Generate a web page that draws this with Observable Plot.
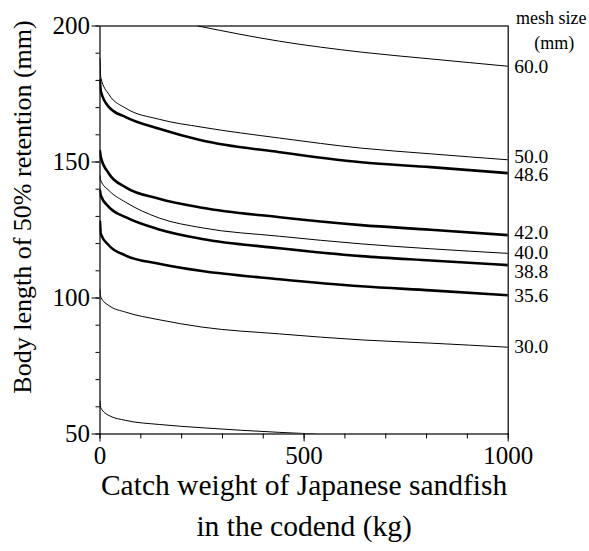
<!DOCTYPE html>
<html><head><meta charset="utf-8">
<script src="https://cdn.jsdelivr.net/npm/d3@7"></script>
<script src="https://cdn.jsdelivr.net/npm/@observablehq/plot@0.6"></script>
<style>body{margin:0;background:#fff} svg{display:block}</style>
</head><body><div id="chart"></div>
<script>
// Catch weight (kg) at which values were read
const kg = [0, 2, 22, 63, 145, 250, 440, 640, 810, 1000];
const kg60 = [240, 440, 640, 810, 1000];
const kgLow = [0, 2, 22, 63, 145, 250, 440, 530];

// Body length of 50% retention (mm) per mesh size
const mesh600 = [200, 194.4, 190.4, 187.9, 185.2];
const mesh500 = [188, 181, 174.8, 169.8, 165.7, 162.8, 158.8, 155.1, 153.0, 150.8];
const mesh486 = [180, 176, 170.2, 166.5, 162.2, 157.9, 153.6, 149.9, 148.1, 145.9];
const mesh420 = [154, 151.8, 145.7, 140.7, 136.5, 133.2, 129.7, 126.8, 125.1, 123.1];
const mesh400 = [145, 143.2, 139.5, 135.2, 129.4, 125.8, 122.7, 119.9, 118.1, 116.4];
const mesh388 = [139.5, 137.7, 133.4, 129.7, 125.2, 121.7, 118.3, 115.4, 113.8, 112.1];
const mesh356 = [128, 123.6, 119.3, 115.6, 112.6, 109.9, 106.9, 104.3, 102.8, 101.0];
const mesh300 = [103, 100.3, 97.2, 94.8, 92.0, 89.3, 86.8, 84.6, 83.4, 81.9];
const meshLow = [62, 59.6, 56.8, 55.0, 53.5, 52.3, 50.6, 50.0];

const meshNames = ["60.0", "50.0", "48.6", "42.0", "40.0", "38.8", "35.6", "30.0", ""];
const thickMeshes = ["48.6", "42.0", "38.8", "35.6"];
const xTicks = [0, 500, 1000];
const yTicks = [50, 100, 150, 200];

// label nudges (px) to avoid overlaps
const labelNudge = {"50.0": -3, "48.6": 2, "42.0": -2, "40.0": -1, "38.8": 7};

const series = [
  [meshNames[0], kg60, mesh600],
  [meshNames[1], kg, mesh500],
  [meshNames[2], kg, mesh486],
  [meshNames[3], kg, mesh420],
  [meshNames[4], kg, mesh400],
  [meshNames[5], kg, mesh388],
  [meshNames[6], kg, mesh356],
  [meshNames[7], kg, mesh300],
  ["low", kgLow, meshLow]
];
const rows = series.flatMap(([mesh, xs, ys]) => xs.map((x, i) => ({mesh, kg: x, len: ys[i]})));
const ends = series.filter(([m]) => m !== "low").map(([mesh, xs, ys]) => ({mesh, kg: xs[xs.length - 1], len: ys[ys.length - 1]}));
const nudges = [...new Set(ends.map(d => labelNudge[d.mesh] || 0))];

const font = "Liberation Serif, Times New Roman, serif";

const chart = Plot.plot({
  width: 589, height: 551,
  marginLeft: 99.5, marginRight: 81.3, marginTop: 25.5, marginBottom: 117.5,
  style: {fontFamily: font, background: "white", color: "black", overflow: "visible"},
  x: {domain: [0, 1000], label: null},
  y: {domain: [50, 200], label: null},
  marks: [
    Plot.axisX({ticks: d3.range(0, 1001, 100), tickSize: 5, tickFormat: () => "", label: null}),
    Plot.axisX({ticks: xTicks, tickSize: 8, tickPadding: 4, fontSize: 25, tickFormat: d => String(d), label: null}),
    Plot.axisY({ticks: d3.range(50, 201, 10), tickSize: 4, tickFormat: () => "", label: null}),
    Plot.axisY({ticks: yTicks, tickSize: 8, tickPadding: 2, fontSize: 25, tickFormat: d => String(d), label: null}),
    Plot.frame({stroke: "black", strokeWidth: 1.2}),
    Plot.line(rows.filter(d => !thickMeshes.includes(d.mesh)), {x: "kg", y: "len", z: "mesh", stroke: "black", strokeWidth: 1, curve: "monotone-x", clip: true}),
    Plot.line(rows.filter(d => thickMeshes.includes(d.mesh)), {x: "kg", y: "len", z: "mesh", stroke: "black", strokeWidth: 2.6, curve: "monotone-x", clip: true}),
    ...nudges.map(n => Plot.text(ends.filter(d => (labelNudge[d.mesh] || 0) === n), {x: "kg", y: "len", text: "mesh", textAnchor: "start", lineAnchor: "middle", dx: 6, dy: n, fontSize: 19.5, fill: "black"})),
    Plot.text(["mesh size"], {text: d => d, frameAnchor: "top-right", lineAnchor: "middle", textAnchor: "middle", dx: 43, dy: -8, fontSize: 18}),
    Plot.text(["(mm)"], {text: d => d, frameAnchor: "top-right", lineAnchor: "middle", textAnchor: "middle", dx: 46, dy: 17, fontSize: 18}),
    Plot.text(["Catch weight of Japanese sandfish"], {text: d => d, frameAnchor: "bottom", lineAnchor: "middle", textAnchor: "middle", dy: 52, fontSize: 29.5}),
    Plot.text(["in the codend (kg)"], {text: d => d, frameAnchor: "bottom", lineAnchor: "middle", textAnchor: "middle", dy: 93, fontSize: 29.5}),
    Plot.text(["Body length of 50% retention (mm)"], {text: d => d, frameAnchor: "left", lineAnchor: "middle", textAnchor: "middle", rotate: -90, dx: -77, dy: -23, fontSize: 26})
  ]
});
document.getElementById("chart").append(chart);
</script>
</body></html>
